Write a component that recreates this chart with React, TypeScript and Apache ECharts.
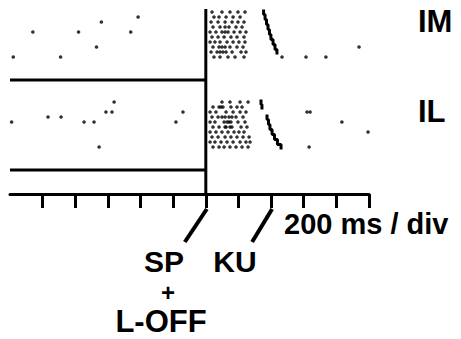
import React, { useEffect, useRef } from "react";
import * as echarts from "echarts";

// Time axis (ms relative to SP + L-OFF)
const TIME_MIN = -1200;
const TIME_MAX = 1000;
const TICK_TIMES = [-1000, -800, -600, -400, -200, 0, 200, 400, 600, 800, 1000];
const KU_MARK_TIME = 400;

// Panel names, vertical row offsets and baseline position (in trial units)
const PANELS = ["IM", "IL"];
const PANEL_ROW_OFFSET = [0, 18];
const BASELINE_TRIAL = 14.6;
const ROW_MAX = 37.4;

// Spike times (ms) per trial, IM unit
const imSpikes: number[][] = [
  [38, 99, 148, 197, 240],
  [-415, 50, 81, 124, 167, 210],
  [-640, 32, 75, 118, 161, 197, 234],
  [44, 87, 118, 142, 185, 222],
  [-1060, -780, -460, 26, 62, 99, 118, 136, 173, 210, 246],
  [38, 75, 112, 154, 191, 234],
  [26, 56, 87, 130, 167, 203, 240],
  [-670, 44, 81, 99, 118, 148, 191, 228, 939],
  [32, 69, 87, 105, 124, 161, 216, 246],
  [-1180, -890, 50, 87, 136, 179, 234, 467, 614, 736],
];

// Spike times (ms) per trial, IL unit
const ilSpikes: number[][] = [
  [-562, 99, 148, 210, 259],
  [44, 81, 93, 105, 154, 191, 222],
  [-612, -575, -140, 26, 62, 124, 167, 210, 246, 620, 639],
  [-967, -887, 38, 75, 99, 118, 142, 160, 185, 228],
  [-1190, -746, -685, -183, 26, 56, 112, 130, 142, 154, 197, 240, 834],
  [44, 81, 118, 124, 148, 160, 216, 252],
  [26, 62, 99, 136, 173, 203, 234, 994],
  [38, 75, 118, 154, 191, 228, 265],
  [26, 56, 93, 130, 167, 210, 246, 271],
  [-654, 44, 81, 112, 148, 185, 222, 259, 633],
];

// KU (key-up) time per trial, ms; null where none was marked
const imKU: (number | null)[] = [354, 363, 372, 381, 390, 399, 412, 424, 436, null];
const ilKU: (number | null)[] = [338, 344, null, 375, 384, 393, 406, 421, 439, 461];

const FONT = '"Liberation Sans", Arial, Helvetica, sans-serif';

function spikePoints(trials: number[][], offset: number): number[][] {
  const pts: number[][] = [];
  trials.forEach((times, i) => {
    times.forEach((t) => pts.push([t, offset + i + 1]));
  });
  return pts;
}

// Each KU mark is a short vertical stroke on its trial row; consecutive
// marks join into one curve, a missing mark breaks it.
function kuSegments(ku: (number | null)[], offset: number): number[][][] {
  const segs: number[][][] = [];
  let cur: number[][] = [];
  ku.forEach((t, i) => {
    if (t === null) {
      if (cur.length) segs.push(cur);
      cur = [];
      return;
    }
    const row = offset + i + 1;
    cur.push([t, row - 0.5], [t, row + 0.5]);
  });
  if (cur.length) segs.push(cur);
  return segs;
}

const black = "#000";

export default function App() {
  const ref = useRef<HTMLDivElement>(null);

  useEffect(() => {
    if (!ref.current) return;
    const chart = echarts.init(ref.current, undefined, { renderer: "svg" });

    const series: any[] = [];
    const rasters = [imSpikes, ilSpikes];
    const kus = [imKU, ilKU];

    PANELS.forEach((name, p) => {
      const off = PANEL_ROW_OFFSET[p];
      series.push({
        name: name + " spikes",
        type: "scatter",
        silent: true,
        symbol: "circle",
        symbolSize: 3.6,
        itemStyle: { color: black },
        data: spikePoints(rasters[p], off),
      });
      kuSegments(kus[p], off).forEach((seg, j) => {
        series.push({
          name: name + " KU " + j,
          type: "line",
          silent: true,
          showSymbol: false,
          lineStyle: { color: black, width: 3 },
          data: seg,
        });
      });
      series.push({
        name: name + " baseline",
        type: "line",
        silent: true,
        showSymbol: false,
        lineStyle: { color: black, width: 3 },
        data: [
          [TIME_MIN, off + BASELINE_TRIAL],
          [0, off + BASELINE_TRIAL],
        ],
      });
    });

    // Stimulus onset line (SP + L-OFF)
    series.push({
      name: "onset",
      type: "line",
      silent: true,
      showSymbol: false,
      lineStyle: { color: black, width: 3 },
      data: [
        [0, 0.4],
        [0, ROW_MAX],
      ],
    });

    chart.setOption({
      animation: false,
      grid: { left: 10, right: 92, top: 7, bottom: 145 },
      xAxis: {
        type: "value",
        min: TIME_MIN,
        max: TIME_MAX,
        interval: 200,
        axisLine: { show: true, onZero: false, lineStyle: { color: black, width: 3 } },
        axisTick: {
          show: true,
          customValues: TICK_TIMES,
          length: 14,
          lineStyle: { color: black, width: 3 },
        },
        axisLabel: { show: false },
        splitLine: { show: false },
      },
      yAxis: {
        type: "value",
        min: 0,
        max: ROW_MAX,
        inverse: true,
        show: false,
        splitLine: { show: false },
      },
      series,
    });

    const x0 = chart.convertToPixel({ xAxisIndex: 0 }, 0) as number;
    const xKU = chart.convertToPixel({ xAxisIndex: 0 }, KU_MARK_TIME) as number;
    const text = (t: string, x: number, y: number, size: number, align = "left") => ({
      type: "text",
      x,
      y,
      silent: true,
      style: {
        text: t,
        fill: black,
        fontFamily: FONT,
        fontWeight: "bold",
        fontSize: size,
        align,
        verticalAlign: "middle",
      },
    });

    chart.setOption({
      graphic: [
        {
          type: "line",
          silent: true,
          shape: { x1: x0 + 1, y1: 209, x2: x0 - 21, y2: 242 },
          style: { stroke: black, lineWidth: 4 },
        },
        {
          type: "line",
          silent: true,
          shape: { x1: xKU + 1, y1: 209, x2: xKU - 19, y2: 242 },
          style: { stroke: black, lineWidth: 4 },
        },
        text(PANELS[0], 418, 21, 31),
        text(PANELS[1], 418, 111, 31),
        text("200 ms / div", 284, 224, 29),
        text("SP", 164, 261, 30, "center"),
        text("KU", 235, 261, 30, "center"),
        text("+", 168, 292.5, 24, "center"),
        text("L-OFF", 161, 321, 31, "center"),
      ],
    });

    return () => chart.dispose();
  }, []);

  return (
    <div
      ref={ref}
      style={{ position: "fixed", left: 0, top: 0, width: 461, height: 339, background: "#fff" }}
    />
  );
}
